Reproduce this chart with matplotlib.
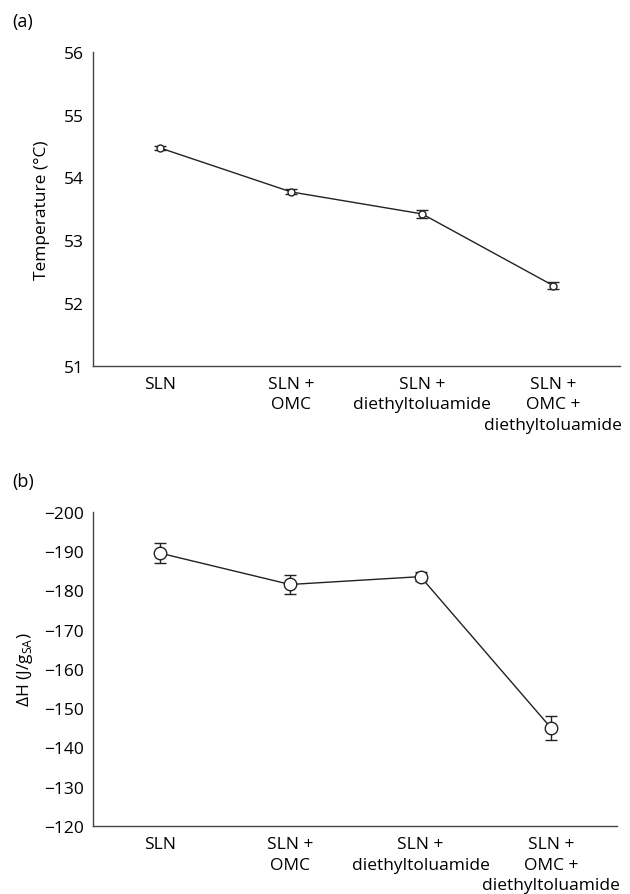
import matplotlib.pyplot as plt
import numpy as np

plt.rcParams['font.family'] = ['Open Sans', 'DejaVu Sans']

categories = ['SLN', 'SLN +\nOMC', 'SLN +\ndiethyltoluamide', 'SLN +\nOMC +\ndiethyltoluamide']

# panel (a): melting temperature
temp_vals = [54.47, 53.77, 53.42, 52.28]
temp_err = [0.03, 0.04, 0.07, 0.06]
temp_ticks = [51, 52, 53, 54, 55, 56]

# panel (b): enthalpy
dh_vals = [-189.5, -181.5, -183.5, -145.0]
dh_err = [2.5, 2.5, 1.2, 3.0]
dh_ticks = [-200, -190, -180, -170, -160, -150, -140, -130, -120]

FS = 12.5

fig = plt.figure(figsize=(6.3, 8.95), dpi=100)
ax1 = fig.add_axes([0.148, 0.590, 0.836, 0.351])
ax2 = fig.add_axes([0.148, 0.076, 0.832, 0.351])

x = np.arange(len(categories))


def style(ax):
    for s in ['top', 'right']:
        ax.spines[s].set_visible(False)
    for s in ['left', 'bottom']:
        ax.spines[s].set_color('#444444')
        ax.spines[s].set_linewidth(1.0)
    ax.tick_params(length=0, labelsize=FS, pad=7)
    ax.set_xticks(x)
    ax.set_xticklabels(categories, va='top', linespacing=1.4)
    ax.set_xlim(-0.51, 3.51)


ax1.errorbar(x, temp_vals, yerr=temp_err, color='#222222', lw=1.0, marker='o', ms=5,
             mfc='white', mec='#222222', mew=1.0, capsize=4, elinewidth=1.0, capthick=1.0)
ax1.set_ylim(51, 56)
ax1.set_yticks(temp_ticks)
ax1.set_ylabel('Temperature (°C)', fontsize=FS, labelpad=10)
style(ax1)

ax2.errorbar(x, dh_vals, yerr=dh_err, color='#222222', lw=1.0, marker='o', ms=9,
             mfc='white', mec='#222222', mew=1.0, capsize=4, elinewidth=1.0, capthick=1.0)
ax2.set_ylim(-120, -200)
ax2.set_yticks(dh_ticks)
ax2.set_yticklabels(['\u2212%d' % abs(v) for v in dh_ticks])
ax2.set_ylabel('ΔH (J/g$_{\\mathregular{SA}}$)', fontsize=FS, labelpad=6)
style(ax2)

fig.text(0.019, 0.975, '(a)', fontsize=FS + 0.5, va='center')
fig.text(0.019, 0.4615, '(b)', fontsize=FS + 0.5, va='center')

fig.savefig('out.png', dpi=100)
